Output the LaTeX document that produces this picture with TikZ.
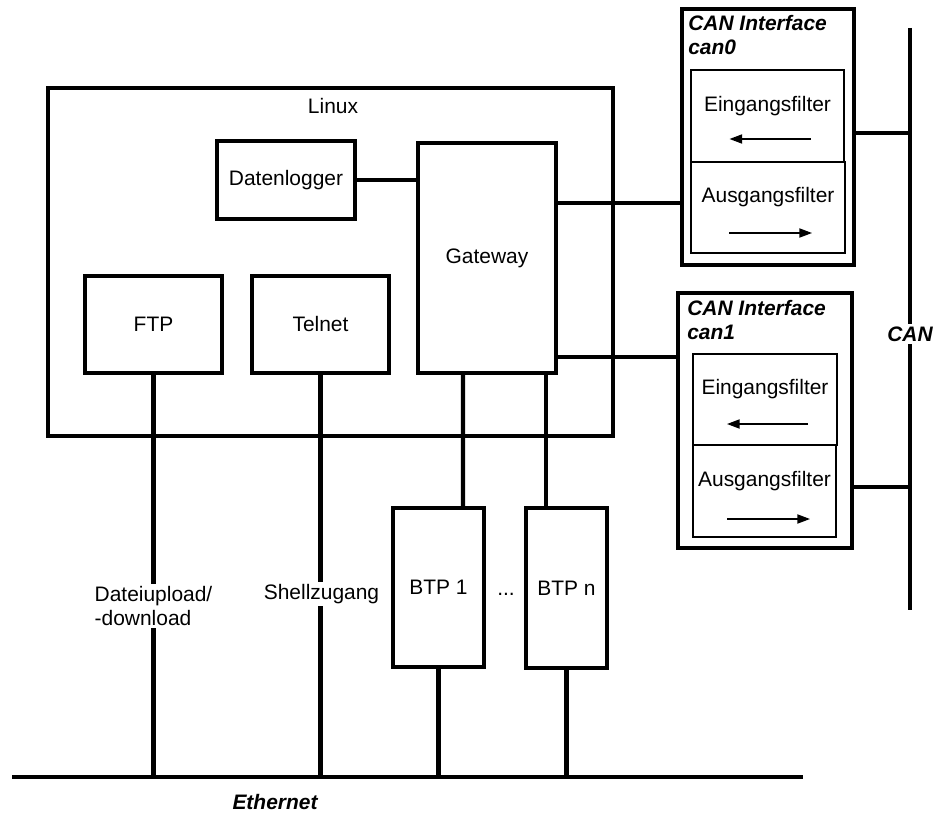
\documentclass[tikz,border=0pt]{standalone}
\usepackage{fontspec}
\setmainfont{Liberation Sans}
\usetikzlibrary{arrows.meta,calc}

\begin{document}
\begin{tikzpicture}[x=0.025cm,y=-0.025cm,
	font=\fontsize{14.9}{17}\selectfont,
	blk/.style={draw,line width=2.5pt,inner sep=0pt},
	fbox/.style={draw,line width=1.4pt,inner sep=0pt},
	conn/.style={line width=3pt},
	sig/.style={line width=1pt,-{Triangle[length=9pt,width=6.5pt]}},
	ttl/.style={font=\fontsize{14.9}{17}\selectfont\bfseries\itshape},
	lbl/.style={fill=white,inner sep=1.5pt,align=left}]
	\useasboundingbox (0,0) rectangle (937,814);

	% Linux Rechner
	\node[blk,minimum width=14.125cm,minimum height=8.7cm] (linux) at (330.5,262) {};
	\node (linuxlbl) at (333,106) {Linux};
	\node[blk,minimum width=3.45cm,minimum height=1.95cm] (dlog) at (286,180) {Datenlogger};
	\node[blk,minimum width=3.45cm,minimum height=5.75cm] (gw) at (487,258) {Gateway};
	\node[blk,minimum width=3.425cm,minimum height=2.425cm] (ftp) at (153.5,324.5) {FTP};
	\node[blk,minimum width=3.425cm,minimum height=2.425cm] (telnet) at (320.5,324.5) {Telnet};

	% BTPs
	\node[blk,minimum width=2.275cm,minimum height=3.975cm] (btp1) at (438.5,587.5) {BTP 1};
	\node[blk,minimum width=2.025cm,minimum height=4cm] (btpn) at (566.5,588) {BTP n};
	\node (dots) at (506,594) {...};

	% CAN Interface can0
	\node[blk,minimum width=4.3cm,minimum height=6.4cm] (can0) at (768,137) {};
	\node[ttl,anchor=north west,inner sep=0pt,align=left] (can0lbl) at (688,15) {CAN Interface\\can0};
	\node[fbox,minimum width=3.825cm,minimum height=2.3cm] (f0in) at (767.5,116) {};
	\node[fbox,minimum width=3.85cm,minimum height=2.275cm] (f0out) at (768,207.5) {};
	\node (f0intxt) at ($(f0in.center)+(0,-10)$) {Eingangsfilter};
	\node (f0outtxt) at ($(f0out.center)+(0,-10)$) {Ausgangsfilter};
	\draw[sig] ($(f0in.center)+(43,23)$) -- ($(f0in.center)+(-38,23)$);
	\draw[sig] ($(f0out.center)+(-39,25.5)$) -- ($(f0out.center)+(44,25.5)$);

	% CAN Interface can1
	\node[blk,minimum width=4.35cm,minimum height=6.375cm] (can1) at (765,420.5) {};
	\node[ttl,anchor=north west,inner sep=0pt,align=left] (can1lbl) at (687,300) {CAN Interface\\can1};
	\node[fbox,minimum width=3.6cm,minimum height=2.275cm] (f1in) at (765,399.5) {};
	\node[fbox,minimum width=3.575cm,minimum height=2.3cm] (f1out) at (764.5,491) {};
	\node (f1intxt) at ($(f1in.center)+(0,-10)$) {Eingangsfilter};
	\node (f1outtxt) at ($(f1out.center)+(0,-10)$) {Ausgangsfilter};
	\draw[sig] ($(f1in.center)+(43,24.5)$) -- ($(f1in.center)+(-38,24.5)$);
	\draw[sig] ($(f1out.center)+(-37.5,28)$) -- ($(f1out.center)+(45.5,28)$);

	% Busse
	\coordinate (ethl) at (12,777);
	\coordinate (ethr) at (803,777);
	\coordinate (cant) at (910,28);
	\coordinate (canb) at (910,610);
	\draw[conn] (ethl) -- (ethr);
	\draw[conn] (cant) -- (canb);

	% Verbindungen
	\draw[conn] (dlog.east) -- (gw.west |- dlog.east);
	\draw[conn] (gw.east |- 0,203) -- (can0.west |- 0,203);
	\draw[conn] (gw.east |- 0,357) -- (can1.west |- 0,357);
	\draw[conn] ($(gw.south)+(-24,0)$) -- ($(btp1.north)+(24.5,0)$);
	\draw[conn] ($(gw.south)+(59,0)$) -- ($(btpn.north)+(-20.5,0)$);
	\draw[conn] (btp1.south) -- (btp1.south |- ethl);
	\draw[conn] (btpn.south) -- (btpn.south |- ethl);
	\draw[conn] (ftp.south) -- (ftp.south |- ethl);
	\draw[conn] (telnet.south) -- (telnet.south |- ethl);
	\draw[conn] (can0.east |- 0,133) -- (cant |- 0,133);
	\draw[conn] (can1.east |- 0,487) -- (cant |- 0,487);

	% Beschriftungen
	\node[lbl] (ftplbl) at (153.5,606) {Dateiupload/\\-download};
	\node[lbl] (telnetlbl) at (321.5,594) {Shellzugang};
	\node[ttl] (ethlbl) at (275,802) {Ethernet};
	\node[ttl,fill=white,inner sep=1.5pt] (canlbl) at (910,334) {CAN};
\end{tikzpicture}
\end{document}
